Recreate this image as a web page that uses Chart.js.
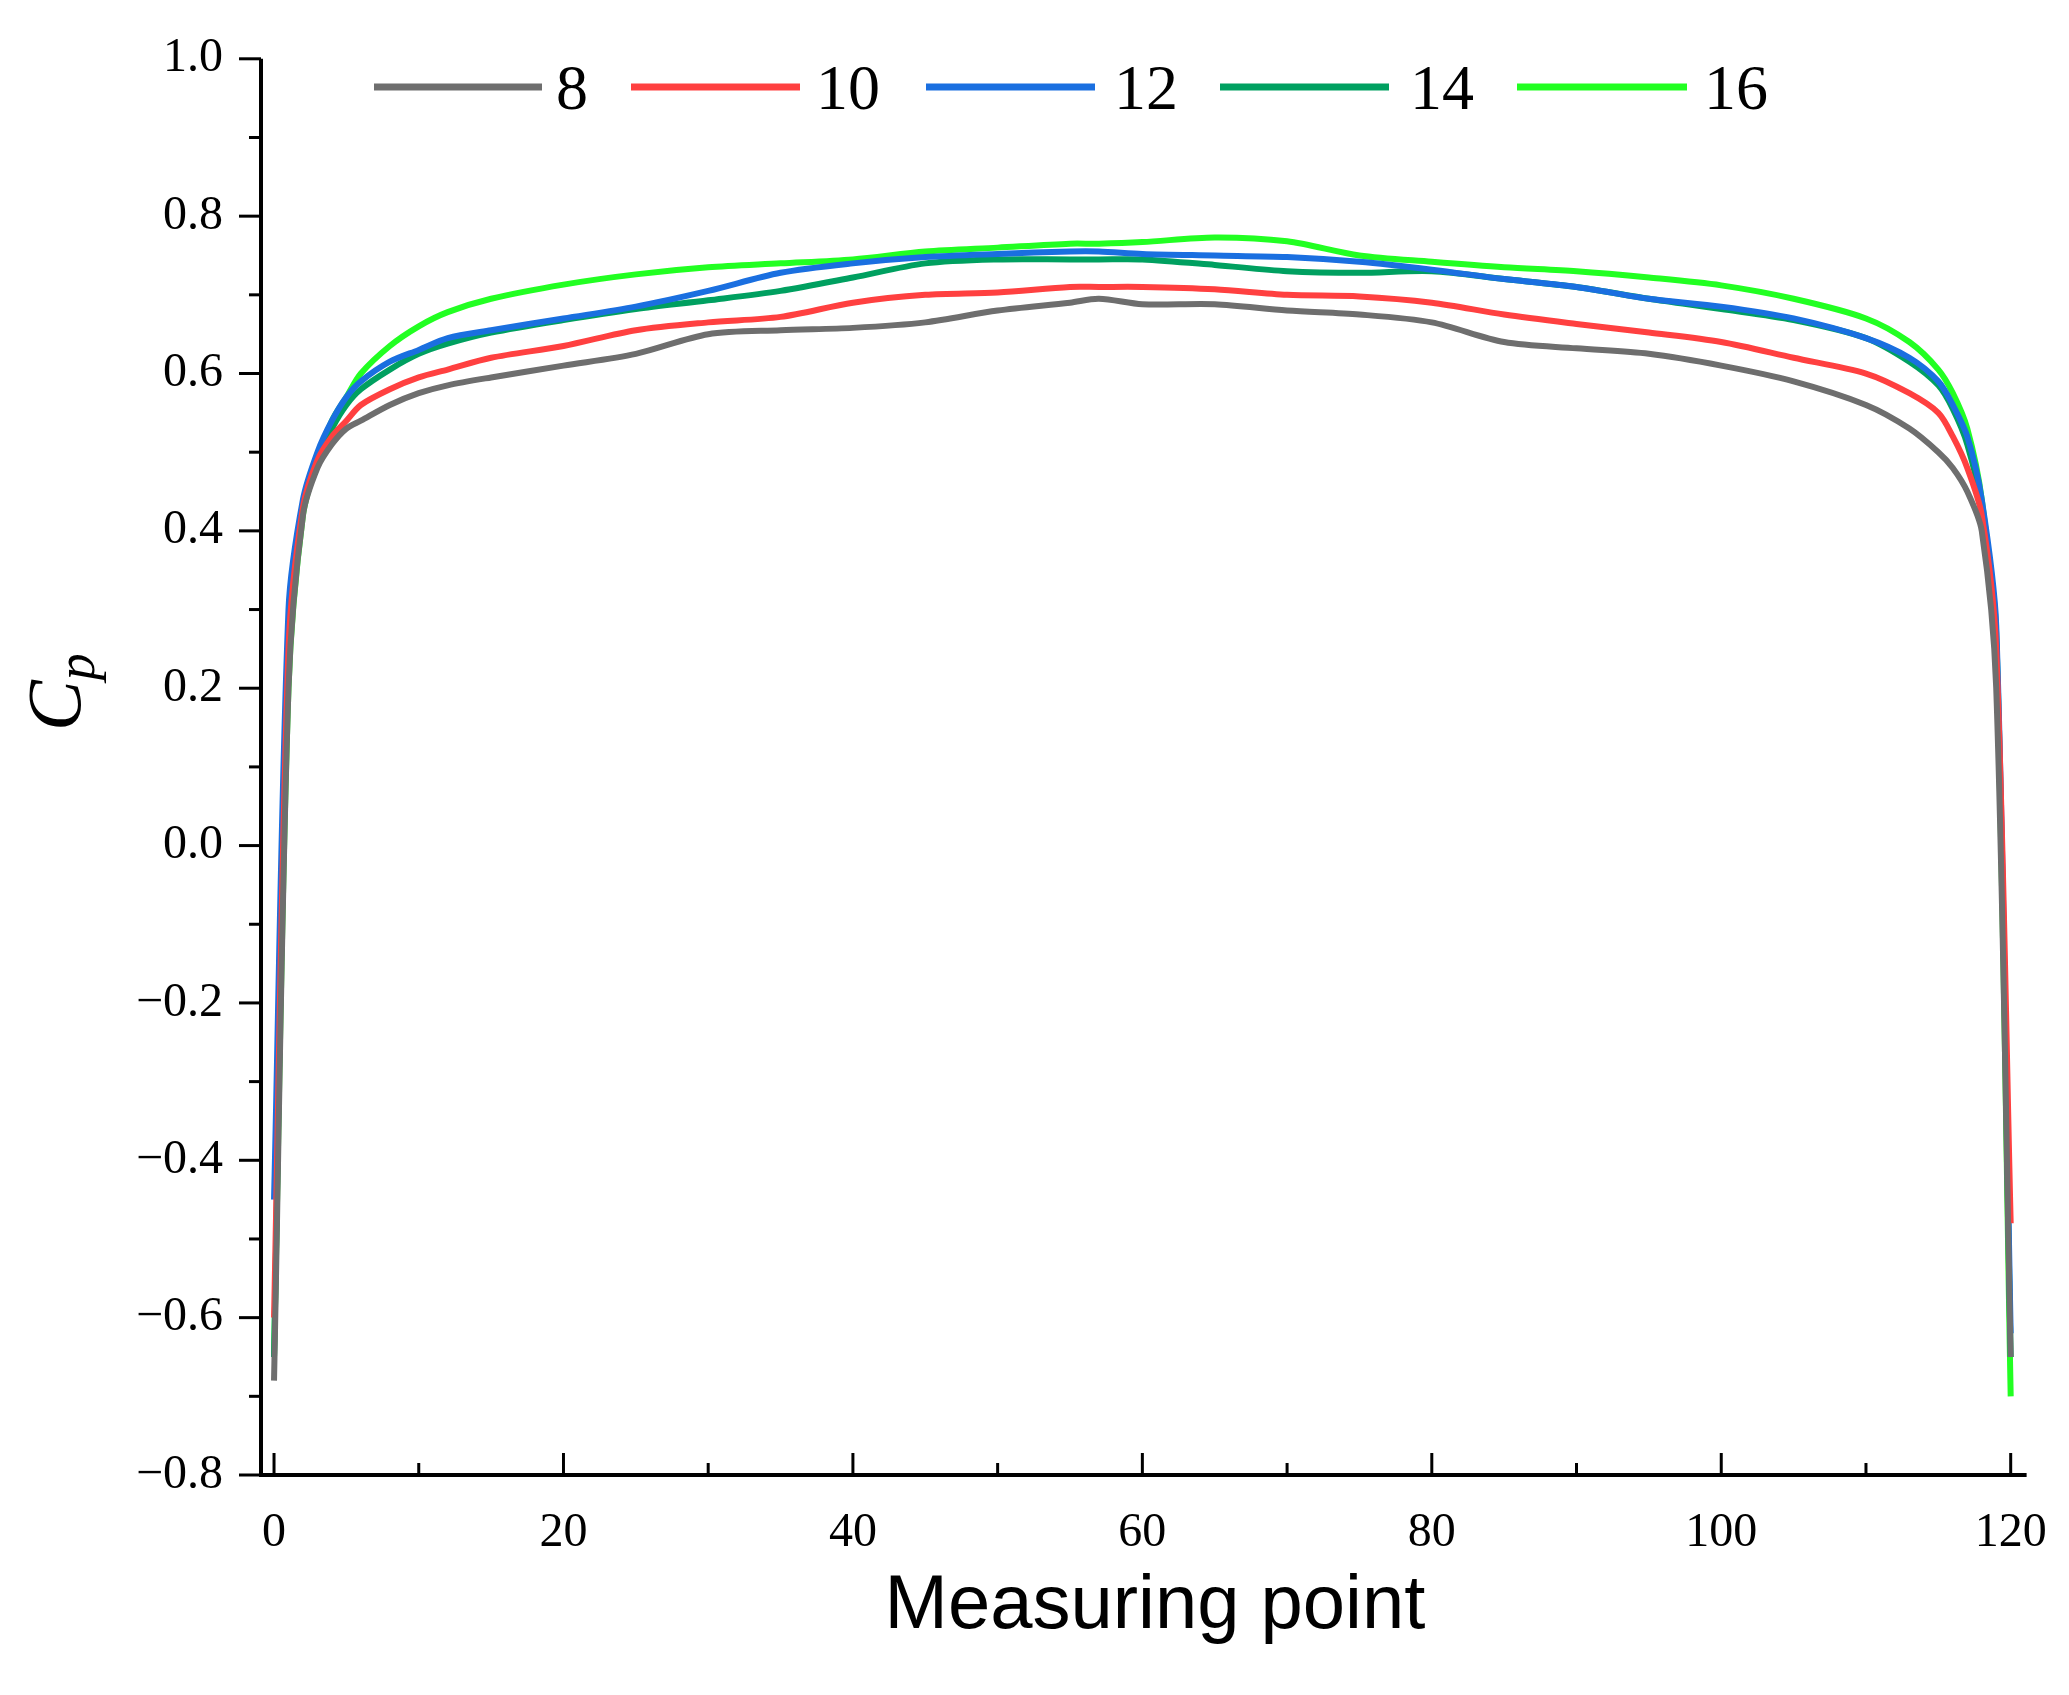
<!DOCTYPE html>
<html lang="en">
<head>
<meta charset="UTF-8">
<title>Cp vs measuring point</title>
<script src="https://cdn.jsdelivr.net/npm/chart.js"></script>
<style>
    body { margin: 0; background: white; }
    #wrap { width: 2069px; height: 1695px; }
</style>
</head>
<body>
<div id="wrap"><canvas id="chart"></canvas></div>
<script>
// measuring points used for every series
const points = [0, 1, 2, 3, 4, 5, 6, 8, 10, 12, 15, 20, 25, 30, 35, 40, 45, 50, 55, 57, 60, 65, 70, 75, 80, 85, 90, 95, 100, 105, 110, 113, 115, 116, 117, 118, 119, 120];

const seriesNames = ['8', '10', '12', '14', '16'];
const cp8  = [-0.68, 0.20, 0.42, 0.48, 0.51, 0.53, 0.54, 0.56, 0.575, 0.585, 0.595, 0.61, 0.625, 0.65, 0.655, 0.658, 0.665, 0.68, 0.69, 0.695, 0.688, 0.688, 0.68, 0.675, 0.665, 0.64, 0.632, 0.625, 0.61, 0.59, 0.56, 0.53, 0.50, 0.48, 0.45, 0.40, 0.20, -0.65];
const cp10 = [-0.60, 0.25, 0.43, 0.49, 0.52, 0.54, 0.56, 0.58, 0.595, 0.605, 0.62, 0.635, 0.655, 0.665, 0.672, 0.69, 0.70, 0.703, 0.71, 0.71, 0.71, 0.707, 0.70, 0.698, 0.69, 0.675, 0.663, 0.652, 0.64, 0.62, 0.60, 0.575, 0.55, 0.52, 0.48, 0.42, 0.25, -0.48];
const cp12 = [-0.45, 0.30, 0.44, 0.50, 0.54, 0.57, 0.59, 0.615, 0.63, 0.645, 0.655, 0.67, 0.685, 0.705, 0.728, 0.74, 0.748, 0.752, 0.755, 0.755, 0.752, 0.75, 0.748, 0.742, 0.732, 0.72, 0.71, 0.695, 0.685, 0.67, 0.645, 0.62, 0.59, 0.56, 0.52, 0.44, 0.28, -0.62];
const cp14 = [-0.65, 0.25, 0.43, 0.49, 0.53, 0.56, 0.58, 0.605, 0.625, 0.638, 0.652, 0.668, 0.682, 0.693, 0.705, 0.722, 0.74, 0.745, 0.745, 0.745, 0.745, 0.738, 0.73, 0.728, 0.73, 0.72, 0.71, 0.695, 0.682, 0.668, 0.645, 0.615, 0.585, 0.555, 0.51, 0.43, 0.27, -0.65];
const cp16 = [-0.65, 0.20, 0.42, 0.49, 0.54, 0.57, 0.60, 0.635, 0.66, 0.678, 0.695, 0.713, 0.726, 0.735, 0.74, 0.745, 0.755, 0.76, 0.765, 0.765, 0.767, 0.773, 0.768, 0.75, 0.742, 0.735, 0.73, 0.722, 0.712, 0.695, 0.67, 0.64, 0.605, 0.575, 0.53, 0.44, 0.25, -0.70];
const colors = ['#6e6e6e', '#ff4040', '#1a6fe0', '#00a060', '#22ff22'];

const xTicks = [0, 20, 40, 60, 80, 100, 120];
const yTicks = [-0.8, -0.6, -0.4, -0.2, 0.0, 0.2, 0.4, 0.6, 0.8, 1.0];

const allSeries = [cp8, cp10, cp12, cp14, cp16];
const datasets = allSeries.map((vals, i) => ({
    label: seriesNames[i],
    data: points.map((p, j) => ({ x: p, y: vals[j] })),
    borderColor: colors[i],
    borderWidth: 6,
    pointRadius: 0,
    tension: 0.3,
    fill: false
}));

// axes, inside/outside ticks, titles and legend
const decor = {
    id: 'decor',
    afterDraw(chart) {
        const { ctx, chartArea: a, scales } = chart;
        const xs = scales.x, ys = scales.y;
        ctx.save();
        ctx.strokeStyle = '#000';
        ctx.lineWidth = 4;
        ctx.beginPath();
        ctx.moveTo(a.left, a.top); ctx.lineTo(a.left, a.bottom); ctx.lineTo(a.right, a.bottom);
        ctx.stroke();
        ctx.lineWidth = 3;
        // y ticks, outward left
        for (let v = -0.8; v <= 1.001; v += 0.1) {
            const y = ys.getPixelForValue(v);
            const major = Math.round(v * 10) % 2 === 0;
            ctx.beginPath(); ctx.moveTo(a.left, y); ctx.lineTo(a.left - (major ? 22 : 12), y); ctx.stroke();
        }
        // x ticks, inward
        for (let v = 0; v <= 120; v += 10) {
            const x = xs.getPixelForValue(v);
            const major = v % 20 === 0;
            ctx.beginPath(); ctx.moveTo(x, a.bottom); ctx.lineTo(x, a.bottom - (major ? 22 : 12)); ctx.stroke();
        }
        // axis titles
        ctx.fillStyle = '#000';
        ctx.font = '76px "Liberation Sans", Arial, sans-serif';
        ctx.textAlign = 'center'; ctx.textBaseline = 'middle';
        ctx.fillText('Measuring point', 1155, 1607);
        ctx.save();
        ctx.translate(60, ys.getPixelForValue(0.2));
        ctx.rotate(-Math.PI / 2);
        ctx.font = 'italic 76px "Liberation Serif", serif';
        ctx.textAlign = 'right';
        ctx.fillText('C', 8, 0);
        ctx.font = 'italic 54px "Liberation Serif", serif';
        ctx.textAlign = 'left';
        ctx.fillText('p', 8, 20);
        ctx.restore();
        // legend
        const items = [[374, 542, 556], [631, 800, 816], [926, 1095, 1114], [1220, 1389, 1410], [1517, 1687, 1704]];
        ctx.font = '64px "Liberation Serif", serif';
        ctx.textAlign = 'left';
        items.forEach((it, i) => {
            ctx.strokeStyle = colors[i]; ctx.lineWidth = 7;
            ctx.beginPath(); ctx.moveTo(it[0], 87); ctx.lineTo(it[1], 87); ctx.stroke();
            ctx.fillText(seriesNames[i], it[2], 92);
        });
        ctx.restore();
    }
};

new Chart(document.getElementById('chart'), {
    type: 'line',
    data: { datasets },
    plugins: [decor],
    options: {
        responsive: true,
        maintainAspectRatio: false,
        animation: false,
        layout: { padding: { top: 49, right: 34, left: 0, bottom: 0 } },
        plugins: { legend: { display: false }, tooltip: { enabled: false } },
        scales: {
            x: {
                type: 'linear', min: -0.9, max: 121.1,
                afterBuildTicks: s => { s.ticks = xTicks.map(v => ({ value: v })); },
                afterFit: s => { s.height = 220; },
                grid: { display: false }, border: { display: false },
                ticks: { color: '#000', padding: 22, maxRotation: 0, font: { family: '"Liberation Serif", serif', size: 48 } }
            },
            y: {
                min: -0.8, max: 1.0,
                afterBuildTicks: s => { s.ticks = yTicks.map(v => ({ value: v })); },
                afterFit: s => { s.width = 261; },
                grid: { display: false }, border: { display: false },
                ticks: {
                    color: '#000', padding: 30,
                    font: { family: '"Liberation Serif", serif', size: 48 },
                    callback: v => (v < 0 ? '\u2212' : '') + Math.abs(v).toFixed(1)
                }
            }
        }
    }
});
</script>
</body>
</html>
